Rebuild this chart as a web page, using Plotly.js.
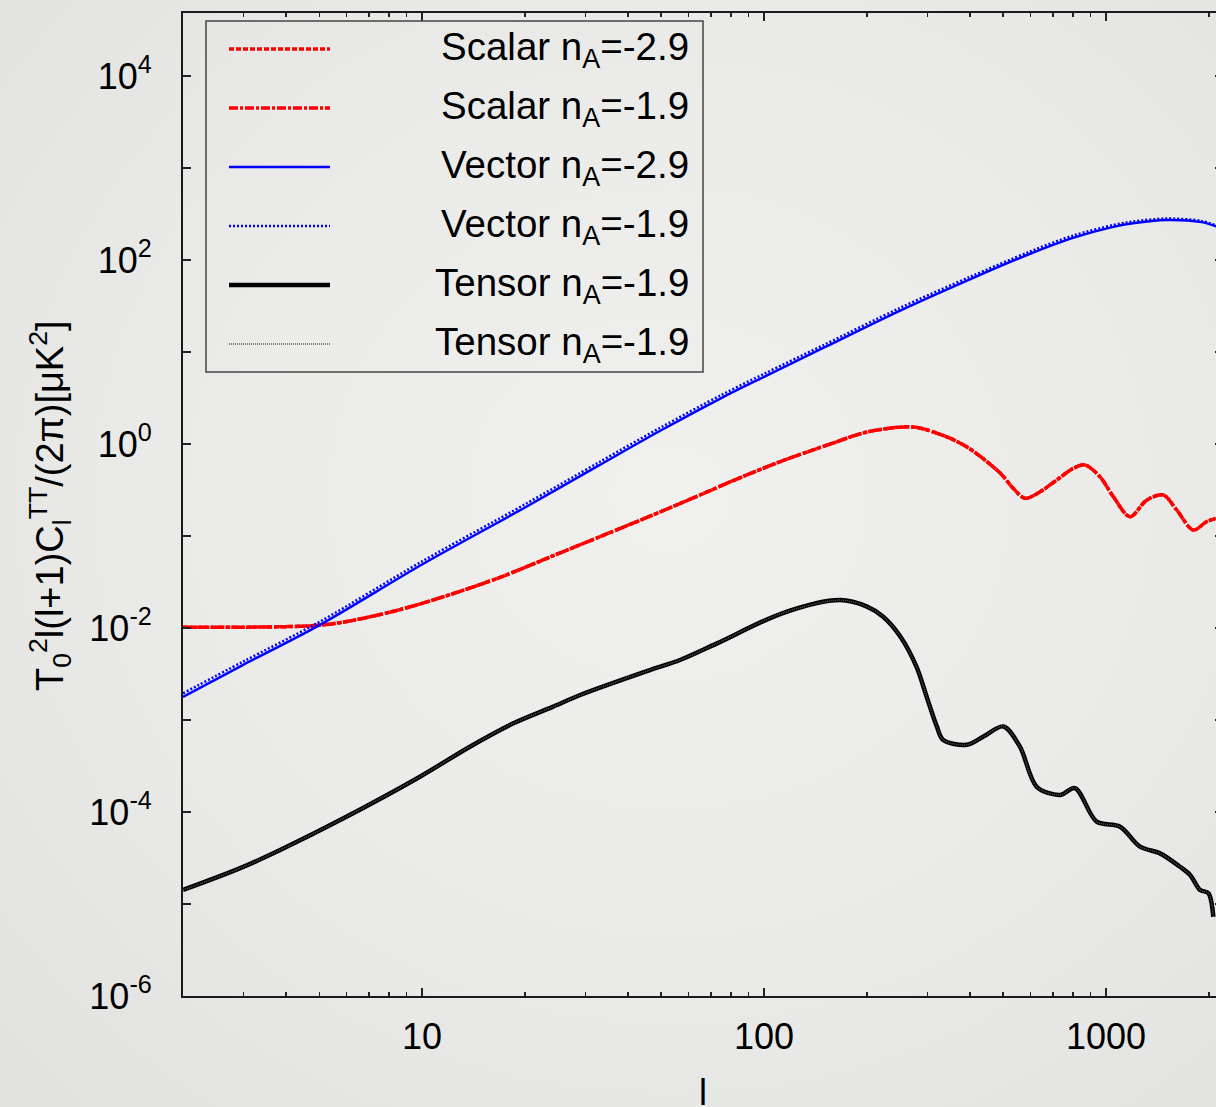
<!DOCTYPE html>
<html><head><meta charset="utf-8">
<script src="https://cdn.plot.ly/plotly-3.0.1.min.js"></script>
<style>
html,body{margin:0;padding:0;overflow:hidden;width:1216px;height:1107px;}
body{background: radial-gradient(ellipse at 55% 45%, #f0f1ef 0%, #eaebe9 55%, #e1e2e0 100%);}
#chart{width:1240px;height:1125px;}
</style></head><body><div id="chart"></div>
<script>
// multipole l values and spectra (units: uK^2)
const lVector = [2, 3, 5, 10, 20, 33, 50, 75, 100, 150, 250, 400, 600, 800, 1050, 1200, 1500, 1900, 2100];
const vectorA29 = [0.00178, 0.00398, 0.0107, 0.049, 0.204, 0.589, 1.41, 3.16, 5.37, 11.2, 28.2, 61.7, 117, 174, 229, 251, 272, 258, 232];
const vectorA19 = [0.00195, 0.00432, 0.0116, 0.053, 0.221, 0.637, 1.52, 3.41, 5.79, 12.0, 30.2, 65.5, 124, 184, 240, 262, 282, 266, 237];

const lScalar = [2, 3, 4, 5, 6.2, 8.6, 12, 17, 24, 33, 46, 65, 81, 110, 159, 200, 272, 330, 391, 490, 535, 580, 641, 718, 802, 867, 959, 1050, 1175, 1314, 1470, 1609, 1800, 1967, 2095];
const scalarA29 = [0.0102, 0.0102, 0.01035, 0.0107, 0.0120, 0.0158, 0.0229, 0.0358, 0.0603, 0.0977, 0.162, 0.279, 0.398, 0.631, 1.023, 1.349, 1.531, 1.259, 0.933, 0.484, 0.331, 0.257, 0.302, 0.407, 0.543, 0.592, 0.442, 0.268, 0.162, 0.245, 0.279, 0.192, 0.116, 0.143, 0.155];
const scalarA19 = [0.0102, 0.0102, 0.01035, 0.0107, 0.0120, 0.0158, 0.0229, 0.0358, 0.0603, 0.0977, 0.162, 0.279, 0.398, 0.631, 1.023, 1.349, 1.531, 1.259, 0.933, 0.484, 0.331, 0.257, 0.302, 0.407, 0.543, 0.592, 0.442, 0.268, 0.162, 0.245, 0.279, 0.192, 0.116, 0.143, 0.155];

const lTensor = [2, 2.94, 3.86, 5.76, 9.86, 13.8, 18.5, 24, 29, 46.4, 56.8, 72.6, 113, 167, 200, 223, 250, 279, 299, 320, 334, 391, 438, 501, 560, 627, 733, 811, 939, 1099, 1257, 1438, 1645, 1761, 1884, 1992, 2059];
const tensorA = [1.42e-5, 2.45e-5, 3.89e-5, 8.18e-5, 2.42e-4, 5.13e-4, 9.2e-4, 1.38e-3, 1.87e-3, 3.49e-3, 4.49e-3, 6.76e-3, 0.01445, 0.0201, 0.01706, 0.01327, 8.13e-3, 3.80e-3, 1.78e-3, 8.51e-4, 6.07e-4, 5.37e-4, 6.61e-4, 8.51e-4, 5.13e-4, 1.88e-4, 1.53e-4, 1.82e-4, 7.85e-5, 6.92e-5, 4.20e-5, 3.55e-5, 2.54e-5, 2.07e-5, 1.42e-5, 1.31e-5, 7.24e-6];
const tensorB = [1.42e-5, 2.45e-5, 3.89e-5, 8.18e-5, 2.42e-4, 5.13e-4, 9.2e-4, 1.38e-3, 1.87e-3, 3.49e-3, 4.49e-3, 6.76e-3, 0.01445, 0.0201, 0.01706, 0.01327, 8.13e-3, 3.80e-3, 1.78e-3, 8.51e-4, 6.07e-4, 5.37e-4, 6.61e-4, 8.51e-4, 5.13e-4, 1.88e-4, 1.53e-4, 1.82e-4, 7.85e-5, 6.92e-5, 4.20e-5, 3.55e-5, 2.54e-5, 2.07e-5, 1.42e-5, 1.31e-5, 7.24e-6];

const seriesNames = ['Scalar n<sub>A</sub>=-2.9', 'Scalar n<sub>A</sub>=-1.9', 'Vector n<sub>A</sub>=-2.9', 'Vector n<sub>A</sub>=-1.9', 'Tensor n<sub>A</sub>=-1.9', 'Tensor n<sub>A</sub>=-1.9'];

const xTickVals = [10, 100, 1000];
const xTickText = ['10', '100', '1000'];
const xMinorVals = [3,4,5,6,7,8,9,20,30,40,50,60,70,80,90,200,300,400,500,600,700,800,900,2000];
const yTickVals = [1e-6,1e-5,1e-4,1e-3,1e-2,1e-1,1,10,100,1e3,1e4];
const yTickText = ['10<sup>-6</sup>','','10<sup>-4</sup>','','10<sup>-2</sup>','','10<sup>0</sup>','','10<sup>2</sup>','','10<sup>4</sup>'];

const styles = [
  {color:'#ff0000', width:3.5, dash:'5px,2px'},
  {color:'#ff0000', width:3.5, dash:'9px,2px,3px,2px'},
  {color:'#0000ff', width:2.5, dash:'solid'},
  {color:'#0000ff', width:2.5, dash:'2px,2px'},
  {color:'#000000', width:4.5, dash:'solid'},
  {color:'#555555', width:1.5, dash:'1px,1px'}
];
const xs = [lScalar, lScalar, lVector, lVector, lTensor, lTensor];
const ys = [scalarA29, scalarA19, vectorA29, vectorA19, tensorA, tensorB];

const traces = ys.map((y, i) => ({
  x: xs[i], y: y, type: 'scatter', mode: 'lines', name: seriesNames[i],
  line: {color: styles[i].color, width: styles[i].width, dash: styles[i].dash, shape: 'spline', smoothing: 0.9},
  showlegend: false, hoverinfo: 'skip'
}));

// layout geometry (pixels)
const W = 1240, H = 1125, L = 183, R = 1223, T = 13, B = 996;
const px = v => (v - L) / (R - L);
const py = v => (B - v) / (B - T);

const font = 'Liberation Sans, Arial, Helvetica, sans-serif';
const shapes = [{type:'rect', xref:'paper', yref:'paper', x0:px(206), x1:px(703), y0:py(21), y1:py(372),
  line:{color:'#444', width:1.5}, fillcolor:'rgba(0,0,0,0)'}];
const annotations = [];
seriesNames.forEach((nm, i) => {
  const yc = 49 + i * 59;
  shapes.push({type:'line', xref:'paper', yref:'paper', x0:px(229), x1:px(330), y0:py(yc), y1:py(yc),
    line:{color: styles[i].color, width: styles[i].width, dash: styles[i].dash}});
  annotations.push({xref:'paper', yref:'paper', x:px(691), y:py(yc + 1), xanchor:'right', yanchor:'middle',
    text: nm, showarrow:false, font:{family:font, size:38.5, color:'#000'}});
});
annotations.push({xref:'paper', yref:'paper', x:px(50), y:py(506), xanchor:'center', yanchor:'middle', textangle:-90,
  text:'T<sub>0</sub><sup>2</sup>l(l+1)C<sub>l</sub><sup>TT</sup>/(2π)[μK<sup>2</sup>]', showarrow:false,
  font:{family:font, size:38, color:'#000'}});
annotations.push({xref:'paper', yref:'paper', x:px(703), y:py(1070), xanchor:'center', yanchor:'top',
  text:'l', showarrow:false, font:{family:font, size:36, color:'#000'}});

const layout = {
  width: W, height: H,
  margin: {l: L, r: W - R, t: T, b: H - B},
  paper_bgcolor: 'rgba(0,0,0,0)', plot_bgcolor: 'rgba(0,0,0,0)',
  font: {family: font, size: 36, color: '#000'},
  showlegend: false,
  xaxis: {type:'log', range:[Math.log10(2), Math.log10(2) + (R - L) / 342], showgrid:false, zeroline:false,
    showline:true, linecolor:'#1a1a1a', linewidth:2, mirror:'ticks', ticks:'inside', ticklen:8, tickwidth:1.5, tickcolor:'#222',
    tickmode:'array', tickvals:xTickVals, ticktext:xTickText, tickfont:{family:font, size:36, color:'#000'}, ticklabelstandoff:8,
    minor:{ticks:'inside', ticklen:4, tickwidth:1.2, tickcolor:'#222', tickmode:'array', tickvals:xMinorVals, showgrid:false}},
  yaxis: {type:'log', range:[-6, -6 + (B - T) / 92], showgrid:false, zeroline:false,
    showline:true, linecolor:'#1a1a1a', linewidth:2, mirror:'ticks', ticks:'inside', ticklen:8, tickwidth:1.5, tickcolor:'#222',
    tickmode:'array', tickvals:yTickVals, ticktext:yTickText, tickfont:{family:font, size:36, color:'#000'}, ticklabelstandoff:22},
  shapes: shapes, annotations: annotations
};
Plotly.newPlot('chart', traces, layout, {staticPlot: true, displayModeBar: false});
</script></body></html>
